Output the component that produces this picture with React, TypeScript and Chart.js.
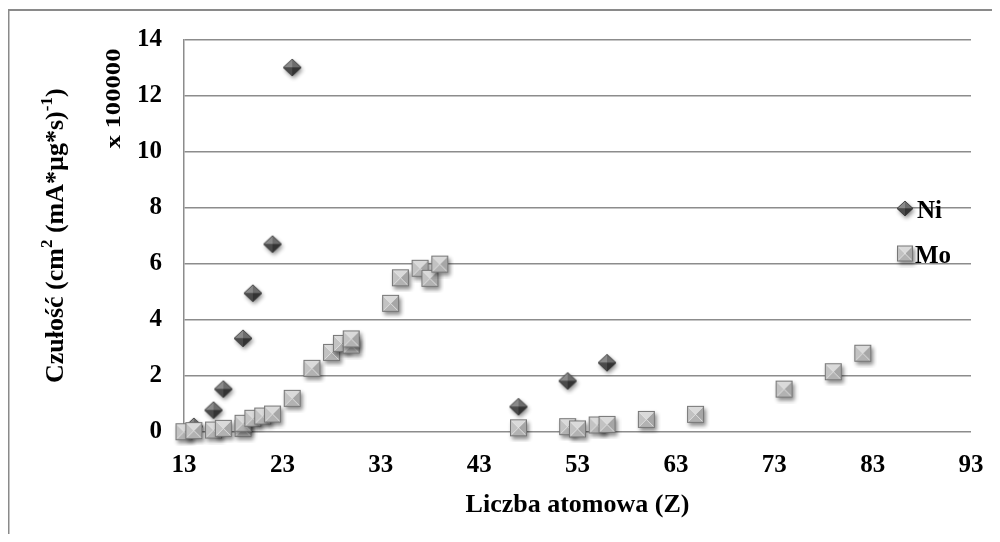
import { useEffect, useRef } from 'react';
import { Chart, registerables } from 'chart.js';

Chart.register(...registerables);

const FONT = "'Liberation Serif', 'Times New Roman', serif";

// Atomic number (Z) and sensitivity (x 100000) for each series
const niZ = [14, 16, 17, 19, 20, 22, 24, 47, 52, 56];
const niSens = [0.2, 0.78, 1.53, 3.34, 4.95, 6.7, 13.0, 0.9, 1.82, 2.47];

const moZ = [13, 14, 16, 17, 19, 19, 20, 21, 22, 24, 26, 28, 29, 30, 30, 34, 35, 37, 38, 39, 47, 52, 53, 55, 56, 60, 65, 74, 79, 82];
const moSens = [0.01, 0.05, 0.07, 0.13, 0.13, 0.31, 0.49, 0.57, 0.64, 1.2, 2.27, 2.84, 3.16, 3.1, 3.32, 4.59, 5.5, 5.84, 5.48, 5.99, 0.15, 0.19, 0.11, 0.25, 0.27, 0.45, 0.63, 1.53, 2.15, 2.81];

const seriesNames = ['Ni', 'Mo'];

const xTicks = [13, 23, 33, 43, 53, 63, 73, 83, 93];
const yTicks = [0, 2, 4, 6, 8, 10, 12, 14];

const xTitle = 'Liczba atomowa (Z)';
const yTitleParts: { t: string; sup?: boolean }[] = [
  { t: 'Czułość (cm' },
  { t: '2', sup: true },
  { t: ' (mA*µg*s)' },
  { t: '-1', sup: true },
  { t: ')' },
];
const yScaleNote = 'x 100000';

const GRID = '#8c8c8c';

type Pt = [number, number];

function tri(g: CanvasRenderingContext2D, pts: Pt[], color: string) {
  g.beginPath();
  g.moveTo(pts[0][0], pts[0][1]);
  for (let i = 1; i < pts.length; i++) g.lineTo(pts[i][0], pts[i][1]);
  g.closePath();
  g.fillStyle = color;
  g.fill();
}

// Pyramid-shaded square marker
function makeSquare(size: number): HTMLCanvasElement {
  const pad = 6;
  const c = document.createElement('canvas');
  c.width = size + pad * 2;
  c.height = size + pad * 2;
  const g = c.getContext('2d')!;
  const x0 = pad, y0 = pad, x1 = pad + size, y1 = pad + size;
  const cx = pad + size / 2, cy = pad + size / 2;
  g.save();
  g.shadowColor = 'rgba(0,0,0,0.45)';
  g.shadowBlur = 4;
  g.shadowOffsetX = 1.5;
  g.shadowOffsetY = 2.5;
  g.fillStyle = '#999';
  g.fillRect(x0, y0, size, size);
  g.restore();
  tri(g, [[x0, y0], [x1, y0], [cx, cy]], '#dadada');
  tri(g, [[x0, y0], [x0, y1], [cx, cy]], '#c2c2c2');
  tri(g, [[x1, y0], [x1, y1], [cx, cy]], '#a6a6a6');
  tri(g, [[x0, y1], [x1, y1], [cx, cy]], '#b2b2b2');
  g.strokeStyle = 'rgba(235,235,235,0.8)';
  g.lineWidth = 1;
  g.beginPath();
  g.moveTo(x0 + 1.5, y0 + 1.5); g.lineTo(x1 - 1.5, y1 - 1.5);
  g.moveTo(x1 - 1.5, y0 + 1.5); g.lineTo(x0 + 1.5, y1 - 1.5);
  g.stroke();
  g.strokeStyle = '#777';
  g.strokeRect(x0 + 0.5, y0 + 0.5, size - 1, size - 1);
  return c;
}

// Pyramid-shaded diamond marker
function makeDiamond(w: number, h: number): HTMLCanvasElement {
  const pad = 6;
  const c = document.createElement('canvas');
  c.width = w + pad * 2;
  c.height = h + pad * 2;
  const g = c.getContext('2d')!;
  const cx = pad + w / 2, cy = pad + h / 2;
  const T: Pt = [cx, pad], R: Pt = [pad + w, cy], B: Pt = [cx, pad + h], L: Pt = [pad, cy], C: Pt = [cx, cy];
  g.save();
  g.shadowColor = 'rgba(0,0,0,0.45)';
  g.shadowBlur = 4;
  g.shadowOffsetX = 1.5;
  g.shadowOffsetY = 2.5;
  tri(g, [T, R, B, L], '#444');
  g.restore();
  tri(g, [L, T, C], '#8a8a8a');
  tri(g, [T, R, C], '#6c6c6c');
  tri(g, [L, B, C], '#4a4a4a');
  tri(g, [B, R, C], '#333333');
  g.strokeStyle = '#3a3a3a';
  g.lineWidth = 0.8;
  g.beginPath();
  g.moveTo(T[0], T[1]); g.lineTo(R[0], R[1]); g.lineTo(B[0], B[1]); g.lineTo(L[0], L[1]); g.closePath();
  g.stroke();
  return c;
}

export default function App() {
  const ref = useRef<HTMLCanvasElement | null>(null);

  useEffect(() => {
    if (!ref.current) return;
    const niMarker = makeDiamond(18, 17);
    const moMarker = makeSquare(17);
    const niLegend = makeDiamond(16, 15);
    const moLegend = makeSquare(16);

    const decor = {
      id: 'decor',
      beforeDraw(chart: Chart) {
        const ctx = chart.ctx;
        ctx.save();
        ctx.fillStyle = '#fff';
        ctx.fillRect(0, 0, chart.width, chart.height);
        ctx.fillStyle = '#8a8a8a';
        ctx.fillRect(0, 1, chart.width, 2);
        ctx.fillRect(0, 1, 1.5, chart.height);
        ctx.restore();
      },
      afterDraw(chart: Chart) {
        const ctx = chart.ctx;
        const a = chart.chartArea;
        ctx.save();
        ctx.fillStyle = '#000';
        ctx.textBaseline = 'alphabetic';

        // x axis title
        ctx.font = `bold 26px ${FONT}`;
        ctx.textAlign = 'center';
        ctx.fillText(xTitle, (a.left + a.right) / 2, a.bottom + 80);

        // y axis title with superscripts
        const big = `bold 26px ${FONT}`;
        const small = `bold 17px ${FONT}`;
        ctx.textAlign = 'left';
        let total = 0;
        for (const p of yTitleParts) {
          ctx.font = p.sup ? small : big;
          total += ctx.measureText(p.t).width;
        }
        ctx.save();
        ctx.translate(a.left - 121, (a.top + a.bottom) / 2);
        ctx.rotate(-Math.PI / 2);
        let x = -total / 2;
        for (const p of yTitleParts) {
          ctx.font = p.sup ? small : big;
          ctx.fillText(p.t, x, p.sup ? -11 : 0);
          x += ctx.measureText(p.t).width;
        }
        ctx.restore();

        // scale note
        ctx.save();
        ctx.font = `bold 20px ${FONT}`;
        const nw = ctx.measureText(yScaleNote).width;
        ctx.translate(a.left - 64, a.top + 59);
        ctx.rotate(-Math.PI / 2);
        ctx.scale(100 / nw, 1);
        ctx.textAlign = 'center';
        ctx.fillText(yScaleNote, 0, 0);
        ctx.restore();

        // legend
        const markers = [niLegend, moLegend];
        ctx.font = `bold 25px ${FONT}`;
        ctx.textAlign = 'left';
        seriesNames.forEach((name, i) => {
          const cy = a.top + 169 + i * 45;
          const mx = a.right - 66;
          const m = markers[i];
          ctx.drawImage(m, mx - m.width / 2, cy - m.height / 2);
          ctx.fillText(name, mx + (i === 0 ? 12 : 10), cy + 9);
        });
        ctx.restore();
      },
    };

    const chart = new Chart(ref.current, {
      type: 'scatter',
      data: {
        datasets: [
          {
            label: seriesNames[0],
            data: niZ.map((z, i) => ({ x: z, y: niSens[i] })),
            pointStyle: niMarker,
            order: 1,
            clip: false,
          },
          {
            label: seriesNames[1],
            data: moZ.map((z, i) => ({ x: z, y: moSens[i] })),
            pointStyle: moMarker,
            order: 0,
            clip: false,
          },
        ],
      },
      options: {
        responsive: false,
        animation: false,
        devicePixelRatio: 1,
        events: [],
        layout: { padding: { top: 31.5, right: 21, left: 0, bottom: 0 } },
        plugins: {
          legend: { display: false },
          tooltip: { enabled: false },
          title: { display: false },
        },
        scales: {
          x: {
            type: 'linear',
            min: xTicks[0],
            max: xTicks[xTicks.length - 1],
            afterBuildTicks: (s: any) => {
              s.ticks = xTicks.map((v) => ({ value: v }));
            },
            afterFit: (s: any) => {
              s.height = 102;
              s.paddingLeft = 0;
              s.paddingRight = 0;
            },
            grid: { display: false, drawTicks: false },
            border: { display: false },
            ticks: {
              color: '#000',
              font: { family: FONT, size: 25, weight: 'bold' },
              padding: 19,
              maxRotation: 0,
            },
          },
          y: {
            type: 'linear',
            min: yTicks[0],
            max: yTicks[yTicks.length - 1],
            afterBuildTicks: (s: any) => {
              s.ticks = yTicks.map((v) => ({ value: v }));
            },
            afterFit: (s: any) => {
              s.width = 176;
              s.paddingTop = 0;
              s.paddingBottom = 0;
            },
            grid: { color: GRID, lineWidth: 1.5, drawTicks: false },
            border: { display: true, color: GRID, width: 1.5 },
            ticks: {
              color: '#000',
              font: { family: FONT, size: 25, weight: 'bold' },
              padding: 22,
            },
          },
        },
      },
      plugins: [decor],
    } as any);

    return () => chart.destroy();
  }, []);

  return (
    <div style={{ width: 984, height: 526 }}>
      <canvas ref={ref} width={984} height={526} style={{ display: 'block' }} />
    </div>
  );
}
